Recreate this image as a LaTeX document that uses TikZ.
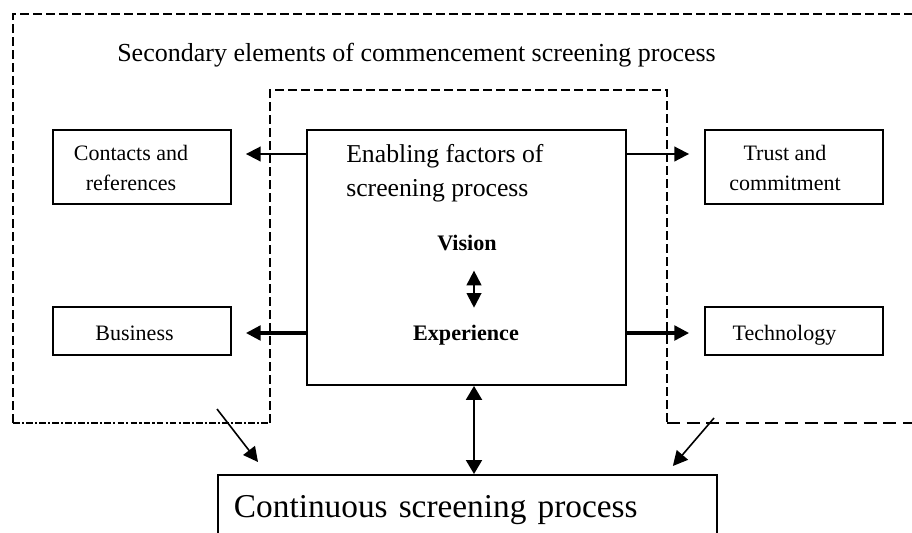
\documentclass[tikz,border=0pt]{standalone}
\usepackage{fontspec}
\setmainfont{Liberation Serif}
\usetikzlibrary{arrows.meta,calc}

\begin{document}
\begin{tikzpicture}[x=0.75pt,y=-0.75pt,
  box/.style={draw, line width=1.4pt, inner sep=0pt},
  lbl/.style={inner sep=0pt, font=\fontsize{16.5}{22.5}\selectfont},
  keylbl/.style={inner sep=0pt, font=\fontsize{16.6}{20}\selectfont\bfseries},
  outerdash/.style={line width=1.4pt, dash pattern=on 6.75pt off 3pt},
  dashdotline/.style={line width=1.4pt, dash pattern=on 5pt off 1.6pt on 1.6pt off 1.6pt},
  longdash/.style={line width=1.4pt, dash pattern=on 9.75pt off 5pt},
  thinarr/.style={line width=1.4pt, -{Triangle[length=11pt,width=11pt]}},
  thickarr/.style={line width=2.3pt, -{Triangle[length=11pt,width=11pt]}},
  vxarr/.style={line width=1.5pt, {Triangle[length=11pt,width=11pt]}-{Triangle[length=11pt,width=11pt]}},
  dblarr/.style={line width=1.5pt, {Triangle[length=10.5pt,width=12pt]}-{Triangle[length=10.5pt,width=12pt]}},
  diagarr/.style={line width=1.2pt, -{Triangle[length=11pt,width=11pt]}}
]
\useasboundingbox (0,0) rectangle (912,532);
\clip (0,0) rectangle (912,532);

% region outlines
\draw[outerdash] (13,423) -- (13,14) -- (916,14);
\draw[dashdotline] (13,423) -- (270,423);
\draw[outerdash] (270,423) -- (270,90) -- (667,90) -- (667,423);
\draw[longdash] (667,423) -- (916,423);

% heading
\node[anchor=base west, inner sep=0pt, font=\fontsize{19.5}{24}\selectfont] (title) at (117,61)
  {Secondary elements of commencement screening process};

% side boxes
\node[box, minimum width=133.5pt, minimum height=55.5pt] (contacts) at (142,167) {};
\node[lbl, align=center] (contactsT) at (131,168) {Contacts and\\references};
\node[box, minimum width=133.5pt, minimum height=55.5pt] (trust) at (794,167) {};
\node[lbl, align=center] (trustT) at (785,168) {Trust and\\commitment};
\node[box, minimum width=133.5pt, minimum height=36pt] (business) at (142,331) {};
\node[lbl, anchor=base] (businessT) at (134.5,340) {Business};
\node[box, minimum width=133.5pt, minimum height=36pt] (technology) at (794,331) {};
\node[lbl, anchor=base] (technologyT) at (784.5,340) {Technology};

% central box
\node[box, minimum width=239.25pt, minimum height=191.25pt] (central) at (466.5,257.5) {};
\node[anchor=west, align=left, inner sep=0pt, font=\fontsize{19.3}{25.5}\selectfont] (enabling) at (346,173.5)
  {Enabling factors of\\screening process};
\node[keylbl, anchor=base] (vision) at (467,250) {Vision};
\node[keylbl, anchor=base] (experience) at (466,340) {Experience};

% bottom box
\node[box, anchor=north west, text width=350.25pt, inner xsep=12pt, minimum height=53.25pt,
      align=left, font=\fontsize{25}{30}\selectfont] (cont) at (217,474)
  {Continuous screening process};

% connectors
\coordinate (rowA) at (0,154);
\coordinate (rowB) at (0,333);
\coordinate (colV) at (474,0);
\draw[thinarr, shorten >=10.5pt] (central.west |- rowA) -- (contacts.east |- rowA);
\draw[thinarr, shorten >=11.25pt] (central.east |- rowA) -- (trust.west |- rowA);
\draw[thickarr, shorten >=10.5pt] (central.west |- rowB) -- (business.east |- rowB);
\draw[thickarr, shorten >=11.25pt] (central.east |- rowB) -- (technology.west |- rowB);
\draw[vxarr, shorten <=15pt, shorten >=12.5pt] (vision.south -| colV) -- (experience.north -| colV);
\draw[dblarr] (central.south -| colV) -- (cont.north -| colV);

\coordinate (dl) at (217,409);
\coordinate (dr) at (714,418);
\draw[diagarr] (dl) -- ($(cont.north west)+(41,-12)$);
\draw[diagarr] (dr) -- ($(cont.north east)+(-45,-8)$);
\end{tikzpicture}
\end{document}
